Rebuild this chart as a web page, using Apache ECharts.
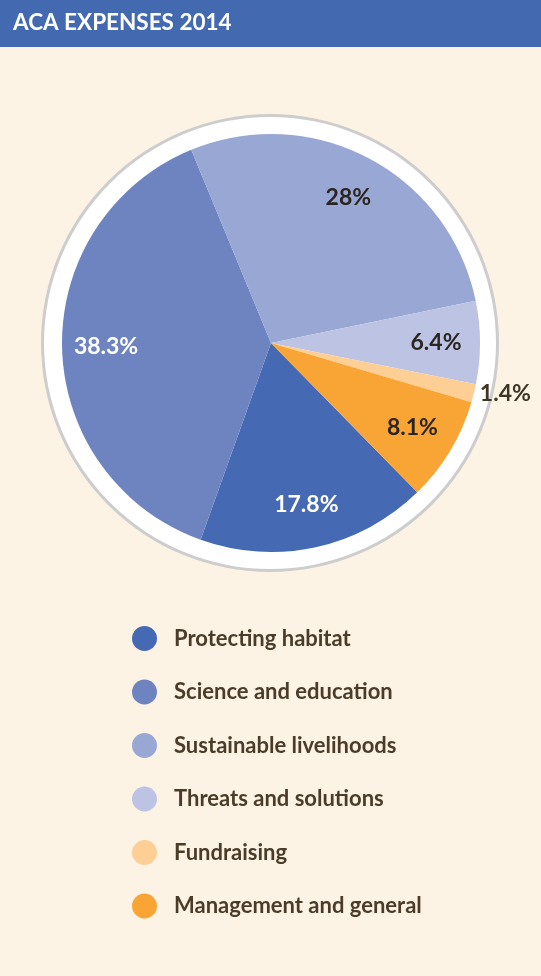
<!DOCTYPE html>
<html>
<head>
<meta charset="utf-8">
<script src="https://cdn.jsdelivr.net/npm/echarts@6/dist/echarts.min.js"></script>
<style>
  html, body { margin: 0; padding: 0; background: #fdf3e5; }
  #chart { width: 541px; height: 976px; }
</style>
</head>
<body>
<div id="chart"></div>
<script>
var categories = ['Protecting habitat', 'Science and education', 'Sustainable livelihoods',
  'Threats and solutions', 'Fundraising', 'Management and general'];
var values = [17.8, 38.3, 28, 6.4, 1.4, 8.1];
var colors = ['#4569b2', '#6e84c0', '#98a7d4', '#bcc3e3', '#fdcf95', '#f9a535'];

var fontFam = 'Lato, "Open Sans", sans-serif';
var darkText = '#2b2520';
var labelColors = ['#ffffff', '#ffffff', darkText, darkText, '#3f3526', darkText];

var chart = echarts.init(document.getElementById('chart'));

var pieData = categories.map(function (name, i) {
  return { name: name, value: values[i], itemStyle: { color: colors[i] } };
});

var labelData = categories.map(function (name, i) {
  var d = {
    name: name,
    value: values[i],
    label: { color: labelColors[i] }
  };
  if (name === 'Fundraising') {
    d.label.position = 'outside';
    d.label.overflow = 'none';
    d.labelLine = { show: false, length: 1, length2: 0 };
  }
  return d;
});

var option = {
  backgroundColor: '#fdf3e5',
  animation: false,
  title: {
    text: 'ACA EXPENSES 2014',
    left: 13,
    top: 11,
    padding: 0,
    textStyle: { color: '#ffffff', fontSize: 22.5, fontWeight: 'bold', fontFamily: fontFam }
  },
  graphic: [{
    type: 'rect',
    z: -1,
    shape: { x: 0, y: 0, width: 541, height: 47 },
    style: { fill: '#4369b0' }
  }],
  legend: {
    orient: 'vertical',
    left: 127,
    top: 621,
    itemWidth: 25,
    itemHeight: 25,
    itemGap: 28.5,
    icon: 'circle',
    selectedMode: false,
    data: categories,
    textStyle: {
      color: '#4a3c28',
      fontSize: 22,
      fontWeight: 'bold',
      fontFamily: fontFam,
      padding: [0, 0, 0, 12]
    }
  },
  series: [
    {
      type: 'pie',
      silent: true,
      center: [270, 343],
      radius: [0, 229],
      label: { show: false },
      itemStyle: { color: '#cdcdcd' },
      data: [{ name: 'ring-border', value: 1 }]
    },
    {
      type: 'pie',
      silent: true,
      center: [270, 343],
      radius: [0, 226],
      label: { show: false },
      itemStyle: { color: '#ffffff' },
      data: [{ name: 'ring', value: 1 }]
    },
    {
      type: 'pie',
      silent: true,
      center: [271, 343],
      radius: [0, 209],
      startAngle: -45.6,
      clockwise: true,
      label: { show: false },
      labelLine: { show: false },
      data: pieData
    },
    {
      type: 'pie',
      silent: true,
      center: [271, 343],
      radius: [115, 209],
      startAngle: -45.6,
      clockwise: true,
      itemStyle: { color: 'rgba(0,0,0,0)' },
      label: {
        show: true,
        position: 'inside',
        formatter: '{c}%',
        fontSize: 23,
        fontWeight: 'bold',
        fontFamily: fontFam
      },
      labelLine: { show: false },
      data: labelData
    }
  ]
};

chart.setOption(option);
</script>
</body>
</html>
